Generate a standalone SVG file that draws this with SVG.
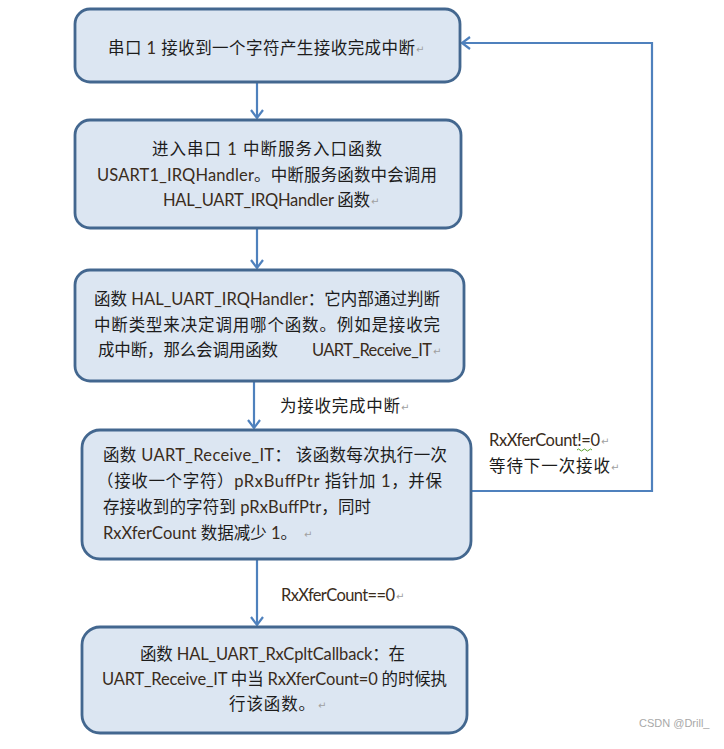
<svg xmlns="http://www.w3.org/2000/svg" width="724" height="749" viewBox="0 0 724 749">
<defs>
<style>
.box{fill:#dce6f2;stroke:#43678f;stroke-width:2.8}
.con{fill:none;stroke:#4f81bd;stroke-width:2.2}
.t{font-family:"Lato","Noto Sans CJK SC",sans-serif;font-size:16.5px;fill:#1c1c1c}
.l{fill:#3a2c1c}
.rt{font-family:"DejaVu Sans",sans-serif;font-size:10px;fill:#a0a0a0}
.wm{font-family:"Liberation Sans",sans-serif;font-size:11px;fill:#a8a8a8}
</style>
<marker id="ah" markerWidth="12" markerHeight="14" refX="10" refY="7" orient="auto" markerUnits="userSpaceOnUse">
<polyline points="2,1 10,7 2,13" fill="none" stroke="#4f81bd" stroke-width="2.2"/>
</marker>
</defs>
<rect width="724" height="749" fill="#ffffff"/>

<g id="connectors">
<line class="con" x1="257" y1="83" x2="257" y2="118" marker-end="url(#ah)"/>
<line class="con" x1="257" y1="229" x2="257" y2="268" marker-end="url(#ah)"/>
<line class="con" x1="254" y1="382" x2="254" y2="428" marker-end="url(#ah)"/>
<line class="con" x1="257" y1="560" x2="257" y2="625" marker-end="url(#ah)"/>
<polyline class="con" points="471,491 652,491 652,43 462,43" marker-end="url(#ah)"/>
<text class="t" x="280" y="412" textLength="120" lengthAdjust="spacing">为接收完成中断</text>
<text class="rt" x="401" y="411">↵</text>
<text class="t" x="281" y="601" textLength="114" lengthAdjust="spacing"><tspan class="l">RxXferCount==0</tspan></text>
<text class="rt" x="396" y="600">↵</text>
<text class="t" x="489" y="446" textLength="111" lengthAdjust="spacing"><tspan class="l">RxXferCount!=0</tspan></text>
<text class="rt" x="601" y="445">↵</text>
<path d="M577,450 q1.5,-2 3,0 t3,0 t3,0 t3,0 t3,0" fill="none" stroke="#5aa02c" stroke-width="1"/>
<text class="t" x="489" y="472" textLength="121" lengthAdjust="spacing">等待下一次接收</text>
<text class="rt" x="611" y="471">↵</text>
</g>

<g id="node1">
<rect class="box" x="75" y="9" width="385" height="73" rx="15"/>
<text class="t" x="108" y="54" textLength="307" lengthAdjust="spacing">串口 <tspan class="l">1</tspan> 接收到一个字符产生接收完成中断</text>
<text class="rt" x="416" y="53">↵</text>
</g>

<g id="node2">
<rect class="box" x="75" y="120" width="386" height="108" rx="15"/>
<text class="t" x="152" y="155" textLength="230" lengthAdjust="spacing">进入串口 <tspan class="l">1</tspan> 中断服务入口函数</text>
<text class="t" x="97" y="181" textLength="340" lengthAdjust="spacing"><tspan class="l">USART1_IRQHandler</tspan>。中断服务函数中会调用</text>
<text class="t" x="163" y="206" textLength="207" lengthAdjust="spacing"><tspan class="l">HAL_UART_IRQHandler</tspan> 函数</text>
<text class="rt" x="371" y="205">↵</text>
</g>

<g id="node3">
<rect class="box" x="75" y="270" width="389" height="111" rx="15"/>
<text class="t" x="94" y="305" textLength="346" lengthAdjust="spacing">函数 <tspan class="l">HAL_UART_IRQHandler</tspan>：它内部通过判断</text>
<text class="t" x="94" y="331" textLength="346" lengthAdjust="spacing">中断类型来决定调用哪个函数。例如是接收完</text>
<text class="t" x="98" y="356" textLength="180" lengthAdjust="spacing">成中断，那么会调用函数</text>
<text class="t" x="312" y="356" textLength="120" lengthAdjust="spacing"><tspan class="l">UART_Receive_IT</tspan></text>
<text class="rt" x="433" y="355">↵</text>
</g>

<g id="node4">
<rect class="box" x="82" y="430" width="389" height="129" rx="18"/>
<text class="t" x="103" y="461" textLength="344" lengthAdjust="spacing">函数 <tspan class="l">UART_Receive_IT</tspan>： 该函数每次执行一次</text>
<text class="t" x="97" y="487" textLength="345" lengthAdjust="spacing">（接收一个字符）<tspan class="l">pRxBuffPtr</tspan> 指针加 <tspan class="l">1</tspan>，并保</text>
<text class="t" x="103" y="513" textLength="268" lengthAdjust="spacing">存接收到的字符到 <tspan class="l">pRxBuffPtr</tspan>，同时</text>
<text class="t" x="103" y="539" textLength="194" lengthAdjust="spacing"><tspan class="l">RxXferCount</tspan> 数据减少 <tspan class="l">1</tspan>。</text>
<text class="rt" x="304" y="538">↵</text>
</g>

<g id="node5">
<rect class="box" x="82" y="627" width="385" height="106" rx="18"/>
<text class="t" x="140" y="660" textLength="265" lengthAdjust="spacing">函数 <tspan class="l">HAL_UART_RxCpltCallback</tspan>：在</text>
<text class="t" x="102" y="685" textLength="345" lengthAdjust="spacing"><tspan class="l">UART_Receive_IT</tspan> 中当 <tspan class="l">RxXferCount=0</tspan> 的时候执</text>
<text class="t" x="229" y="710" textLength="86" lengthAdjust="spacing">行该函数。</text>
<text class="rt" x="318" y="709">↵</text>
</g>

<text class="wm" x="639" y="727">CSDN @Drill_</text>
</svg>
